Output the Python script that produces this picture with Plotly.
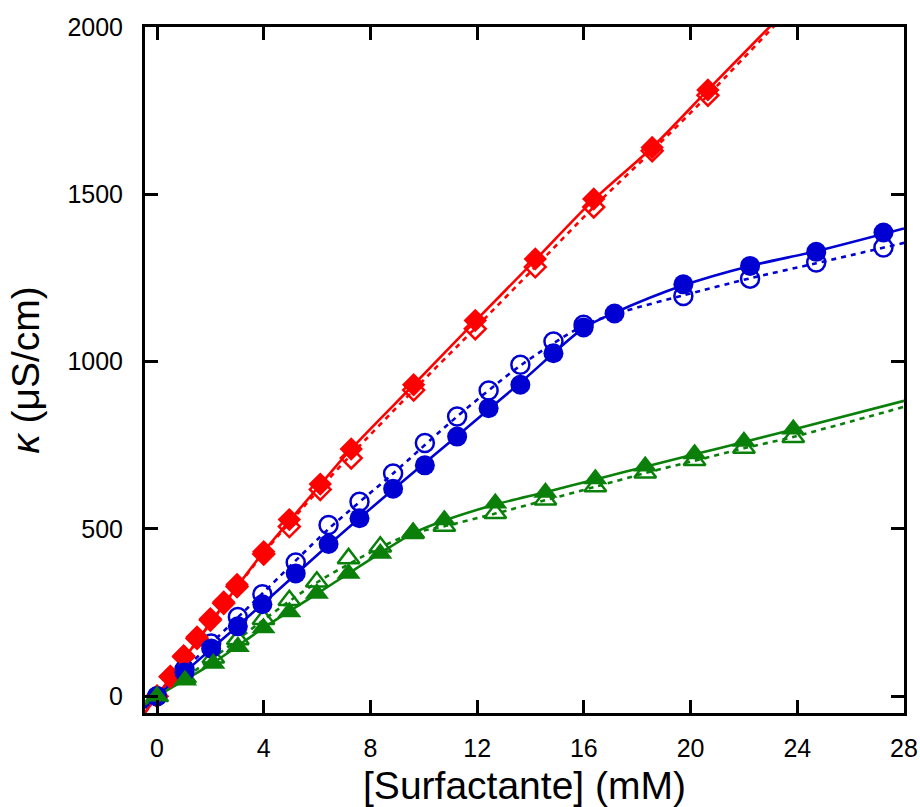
import plotly.graph_objects as go

# ---------------- data ----------------
# Red diamonds
red_x = [0, 0.5, 1.0, 1.5, 2.0, 2.5, 3.0, 4.0, 4.96, 6.12, 7.28, 9.62, 11.93, 14.18, 16.37, 18.56, 20.65]
red_filled_y = [0, 60, 121, 177, 232, 282, 334, 432, 528, 634, 739, 931, 1123, 1307, 1486, 1640, 1812]
red_open_y = [0, 58, 118, 173, 228, 278, 328, 425, 507, 618, 712, 915, 1098, 1283, 1462, 1630, 1796]

# Blue circles
blue_filled_x = [0, 1.03, 2.03, 3.03, 3.95, 5.2, 6.43, 7.59, 8.85, 10.04, 11.25, 12.43, 13.62, 14.86, 15.99, 17.15, 19.73, 22.23, 24.71, 27.23]
blue_filled_y = [0, 71, 143, 209, 275, 367, 455, 532, 620, 690, 776, 861, 931, 1025, 1102, 1144, 1231, 1286, 1328, 1386]
blue_open_x = [0, 1.03, 2.03, 3.03, 3.95, 5.2, 6.43, 7.59, 8.85, 10.04, 11.25, 12.43, 13.62, 14.86, 15.99, 19.73, 22.23, 24.71, 27.23]
blue_open_y = [0, 80, 158, 237, 305, 400, 512, 581, 666, 757, 836, 914, 991, 1060, 1110, 1196, 1248, 1296, 1341]

# Green triangles
green_x = [0, 1.05, 2.11, 3.03, 3.99, 4.96, 5.99, 7.18, 8.37, 9.6, 10.77, 12.68, 14.56, 16.43, 18.3, 20.15, 22.0, 23.85]
green_filled_y = [0, 48, 98, 148, 204, 252, 307, 367, 427, 490, 527, 577, 609, 649, 687, 724, 761, 798]
green_open_y = [0, 55, 115, 170, 230, 287, 342, 412, 447, 487, 509, 547, 587, 627, 668, 705, 742, 774]

# Fitted curves (knots)
red_fit_x = [-0.45, 0, 2.0, 4.0, 6.12, 7.28, 9.62, 11.93, 14.18, 16.37, 18.56, 20.65, 22.96, 24.0]
red_fit_y = [-49, 0, 220, 432, 632, 739, 931, 1121, 1304, 1484, 1640, 1812, 2000, 2084]
red_fit2_x = [-0.45, 0, 2.0, 4.0, 6.12, 7.28, 9.62, 11.93, 14.18, 16.37, 18.56, 20.65, 23.1, 24.0]
red_fit2_y = [-49, 0, 218, 428, 622, 722, 915, 1100, 1283, 1462, 1630, 1796, 2000, 2073]

blue_fit_x = [-0.45, 0, 2.03, 3.95, 6.43, 8.85, 11.25, 13.62, 15.99, 17.15, 19.73, 22.23, 24.71, 28.0]
blue_fit_y = [-32, 0, 141, 275, 452, 618, 778, 937, 1100, 1146, 1228, 1286, 1330, 1398]
blue_fit2_x = [-0.45, 0, 2.03, 3.95, 6.43, 8.85, 11.25, 13.62, 15.99, 17.5, 19.73, 22.23, 24.71, 28.0]
blue_fit2_y = [-35, 0, 158, 307, 500, 666, 836, 988, 1108, 1150, 1198, 1249, 1294, 1355]

green_fit_x = [-0.45, 0, 2.11, 3.99, 5.99, 8.37, 9.6, 10.77, 12.68, 14.56, 16.43, 18.3, 20.15, 22.0, 23.85, 28.0]
green_fit_y = [-22, 0, 100, 204, 306, 428, 487, 525, 573, 610, 648, 686, 723, 760, 797, 883]
green_fit2_x = [-0.45, 0, 2.11, 3.99, 5.99, 8.37, 9.6, 10.77, 12.68, 14.56, 16.43, 18.3, 20.15, 22.0, 23.85, 28.0]
green_fit2_y = [-24, 0, 115, 228, 340, 445, 487, 508, 546, 586, 626, 667, 704, 741, 775, 865]

x_ticks = [0, 4, 8, 12, 16, 20, 24, 28]
y_ticks = [0, 500, 1000, 1500, 2000]

RED = "#ff0000"
BLUE = "#0000d2"
GREEN = "#0a800a"
FONT = "Liberation Sans, Arial, sans-serif"

fig = go.Figure()

def fit(x, y, color, dash):
    fig.add_trace(go.Scatter(x=x, y=y, mode="lines",
                             line=dict(color=color, width=2.6, dash=dash, shape="spline", smoothing=0.8),
                             hoverinfo="skip", showlegend=False))

DOT = "5px,5px"
fit(red_fit2_x, red_fit2_y, RED, DOT)
fit(red_fit_x, red_fit_y, RED, "solid")
fit(blue_fit2_x, blue_fit2_y, BLUE, DOT)
fit(blue_fit_x, blue_fit_y, BLUE, "solid")
fit(green_fit2_x, green_fit2_y, GREEN, DOT)
fit(green_fit_x, green_fit_y, GREEN, "solid")

def pts(x, y, color, symbol, size, lw):
    fig.add_trace(go.Scatter(
        x=x, y=y, mode="markers", showlegend=False,
        marker=dict(symbol=symbol, size=size, color=color,
                    line=dict(color=color, width=lw))))

pts(red_x, red_open_y, RED, "diamond-open", 16, 2.5)
pts(blue_open_x, blue_open_y, BLUE, "circle-open", 18, 2.5)
pts(green_x, green_open_y, GREEN, "triangle-up-open", 19, 2.5)
pts(red_x, red_filled_y, RED, "diamond", 18, 0)
pts(blue_filled_x, blue_filled_y, BLUE, "circle", 20, 0)
pts(green_x, green_filled_y, GREEN, "triangle-up", 21, 0)

axis_common = dict(showline=True, linecolor="black", linewidth=3, mirror="allticks",
                   ticks="inside", ticklen=13, tickwidth=2.5, tickcolor="black",
                   showgrid=False, zeroline=False, automargin=False,
                   tickfont=dict(family=FONT, size=25, color="black"))

fig.update_layout(
    width=920, height=807,
    margin=dict(l=145, r=16, t=27, b=94),
    paper_bgcolor="white", plot_bgcolor="white",
    xaxis=dict(range=[-0.45, 28.0], tickvals=x_ticks, ticklabelstandoff=11,
               title=dict(text="[Surfactante] (mM)", standoff=20,
                          font=dict(family=FONT, size=39, color="black")),
               **axis_common),
    yaxis=dict(range=[-50, 2000], tickvals=y_ticks, ticklabelstandoff=14,
               title=dict(text="<i>κ</i> (μS/cm)", standoff=16,
                          font=dict(family=FONT, size=39, color="black")),
               **axis_common),
)

fig.write_html("out.html")
